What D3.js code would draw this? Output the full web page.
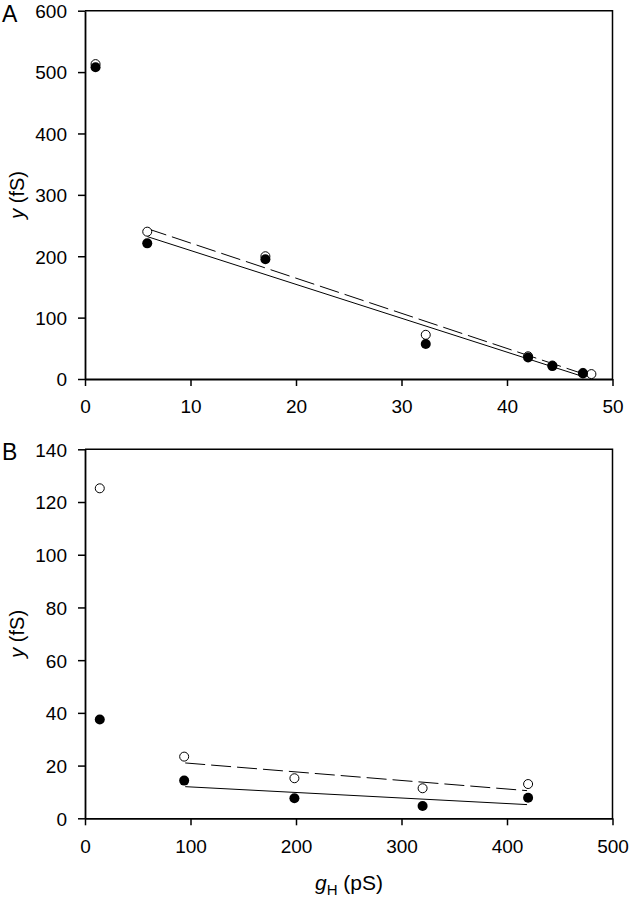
<!DOCTYPE html>
<html>
<head>
<meta charset="utf-8">
<script src="https://cdn.jsdelivr.net/npm/d3@7"></script>
<style>
  body { margin: 0; background: #fff; }
  svg { display: block; font-family: 'Liberation Sans', Arial, sans-serif; }
</style>
</head>
<body>
<div id="chart"></div>
<script>
// panel A data
const aX = [1, 5.9, 17.1, 32.3, 42.0, 44.3, 47.2, 48.0]
const aOpen = [513, 240, 200, 72, 37, 22, 10, 8]
const aFillX = [1, 5.9, 17.1, 32.3, 42.0, 44.3, 47.2]
const aFilled = [508, 221, 195, 57, 35, 21, 9]
const aFitSolidX = [5.9, 47.2]
const aFitSolidY = [232, 4]
const aFitDashX = [5.9, 48.0]
const aFitDashY = [245, 4]
const aXTicks = [0, 10, 20, 30, 40, 50]
const aYTicks = [0, 100, 200, 300, 400, 500, 600]

// panel B data
const bX = [14, 94, 198.5, 320, 420]
const bOpen = [125.2, 23.4, 15.2, 11.4, 13.0]
const bFilled = [37.5, 14.3, 7.6, 4.7, 7.8]
const bFitSolidX = [95, 419]
const bFitSolidY = [12.0, 5.2]
const bFitDashX = [95, 419]
const bFitDashY = [21.0, 10.5]
const bXTicks = [0, 100, 200, 300, 400, 500]
const bYTicks = [0, 20, 40, 60, 80, 100, 120, 140]

const W = 630, H = 900
const svg = d3.select('#chart').append('svg').attr('width', W).attr('height', H)

const drawPanel = (opt) => {
  const x = d3.scaleLinear().domain([0, opt.xMax]).range([85, 612.5])
  const y = d3.scaleLinear().domain([0, opt.yMax]).range([opt.bottom, opt.top])
  const g = svg.append('g')

  // frame top + right
  g.append('path')
    .attr('d', `M${x(0)},${y(opt.yMax)}H${x(opt.xMax)}V${y(0)}`)
    .attr('fill', 'none').attr('stroke', '#000').attr('stroke-width', 1.5)

  const xAxis = g.append('g').attr('transform', `translate(0,${y(0)})`)
    .call(d3.axisBottom(x).tickValues(opt.xTicks).tickSize(7).tickSizeOuter(0).tickPadding(14))
  const yAxis = g.append('g').attr('transform', `translate(${x(0)},0)`)
    .call(d3.axisLeft(y).tickValues(opt.yTicks).tickSize(7).tickSizeOuter(0).tickPadding(11))
  ;[xAxis, yAxis].forEach(a => {
    a.select('.domain').attr('stroke-width', 1.8)
    a.selectAll('line').attr('stroke-width', 1.5)
    a.selectAll('text').attr('font-size', 19).attr('fill', '#000')
      .attr('font-family', "'Liberation Sans', Arial, sans-serif")
  })
  yAxis.selectAll('text').attr('dy', '0.36em')

  // fitted lines
  const line = d3.line().x(d => x(d[0])).y(d => y(d[1]))
  g.append('path').datum(d3.zip(opt.solidX, opt.solidY))
    .attr('d', line).attr('fill', 'none').attr('stroke', '#000').attr('stroke-width', 1)
  g.append('path').datum(d3.zip(opt.dashX, opt.dashY))
    .attr('d', line).attr('fill', 'none').attr('stroke', '#000').attr('stroke-width', 1)
    .attr('stroke-dasharray', '20,6')

  // open circles then filled circles
  g.selectAll('.open').data(d3.zip(opt.openX, opt.open)).enter().append('circle')
    .attr('cx', d => x(d[0])).attr('cy', d => y(d[1])).attr('r', 4.5)
    .attr('fill', '#fff').attr('stroke', '#000').attr('stroke-width', 1)
  g.selectAll('.filled').data(d3.zip(opt.fillX, opt.filled)).enter().append('circle')
    .attr('cx', d => x(d[0])).attr('cy', d => y(d[1])).attr('r', 5)
    .attr('fill', '#000')

  // panel letter
  g.append('text').text(opt.letter).attr('x', 2).attr('y', opt.top + 11)
    .attr('font-size', 23).attr('fill', '#000')

  // y label
  const yl = g.append('text')
    .attr('transform', `translate(24,${(opt.top + opt.bottom) / 2}) rotate(-90)`)
    .attr('text-anchor', 'middle').attr('font-size', 20).attr('fill', '#000')
  yl.append('tspan').attr('font-style', 'italic').text('y')
  yl.append('tspan').text(' (fS)')
}

drawPanel({ letter: 'A', top: 10.7, bottom: 379, xMax: 50, yMax: 600,
  xTicks: aXTicks, yTicks: aYTicks,
  openX: aX, open: aOpen, fillX: aFillX, filled: aFilled,
  solidX: aFitSolidX, solidY: aFitSolidY, dashX: aFitDashX, dashY: aFitDashY })

drawPanel({ letter: 'B', top: 449.3, bottom: 818.3, xMax: 500, yMax: 140,
  xTicks: bXTicks, yTicks: bYTicks,
  openX: bX, open: bOpen, fillX: bX, filled: bFilled,
  solidX: bFitSolidX, solidY: bFitSolidY, dashX: bFitDashX, dashY: bFitDashY })

// x label for bottom panel
const xl = svg.append('text').attr('x', 349).attr('y', 890)
  .attr('text-anchor', 'middle').attr('font-size', 21).attr('fill', '#000')
xl.append('tspan').attr('font-style', 'italic').text('g')
xl.append('tspan').attr('font-size', 15).attr('dy', 5).text('H')
xl.append('tspan').attr('dy', -5).text(' (pS)')
</script>
</body>
</html>
